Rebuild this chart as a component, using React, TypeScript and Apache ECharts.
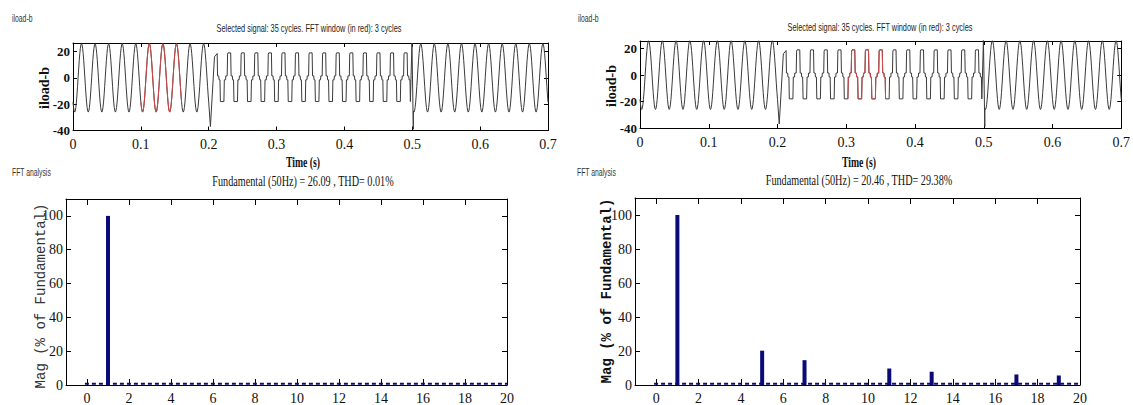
import React, { useEffect, useRef } from 'react';
import * as echarts from 'echarts';

// ---- tick labels ----
const timeTicks = [0, 0.1, 0.2, 0.3, 0.4, 0.5, 0.6, 0.7];
const currentTicks = [-40, -20, 0, 20];
const harmonicTicks = [0, 2, 4, 6, 8, 10, 12, 14, 16, 18, 20];
const magTicks = [0, 20, 40, 60, 80, 100];

// ---- FFT bars (% of fundamental) ----
const harmonicsLeft = [1];
const magnitudesLeft = [100];
const harmonicsRight = [1, 5, 7, 11, 13, 17, 19];
const magnitudesRight = [100, 20.2, 14.6, 9.7, 7.8, 6.2, 5.6];
const noiseFloor = 0.7;

// ---- time signal iload-b ----
const cyclePeriod = 0.02; // 50 Hz
// one sinusoidal cycle, starting at a positive peak (24 samples)
const sineCycle = [26, 25.1, 22.5, 18.4, 13, 6.7, 0, -6.7, -13, -18.4, -22.5, -25.1,
  -26, -25.1, -22.5, -18.4, -13, -6.7, 0, 6.7, 13, 18.4, 22.5, 25.1];
const sinePeakTime = 0.0125;
// one six-step cycle: [fraction of period, value]
const stepCycle: [number, number][] = [
  [0, 1.5], [0.03, 18], [0.06, 19], [0.26, 19], [0.29, 1.5], [0.38, 1.5], [0.4, -1.5],
  [0.47, -1.5], [0.5, -18], [0.53, -18], [0.76, -18], [0.79, -1.5], [0.88, -1.5], [0.9, 1.5],
];
const stepRiseTime = 0.2072;
const sineSpans: [number, number][] = [[0, 0.2], [0.5016, 0.7]];
const stepSpan: [number, number] = [0.2126, 0.499];
const transientStart: [number, number][] = [[0.2025, -37], [0.2085, 16], [0.2125, 18.5]];
const transientEnd: [number, number][] = [[0.4995, 26.5], [0.5015, -39]];
const windowLeft: [number, number] = [0.1, 0.16];
const windowRight: [number, number] = [0.3, 0.36];

const fftTitleLeft = 'Fundamental (50Hz) = 26.09 , THD= 0.01%';
const fftTitleRight = 'Fundamental (50Hz) = 20.46 , THD= 29.38%';
const signalTitle = 'Selected signal: 35 cycles. FFT window (in red): 3 cycles';

function sineSamples(t0: number, t1: number): [number, number][] {
  const n = sineCycle.length;
  const step = cyclePeriod / n;
  const out: [number, number][] = [];
  let k = Math.ceil((t0 - sinePeakTime) / step - 1e-9);
  for (;; k++) {
    const t = sinePeakTime + k * step;
    if (t > t1 + 1e-9) break;
    out.push([+t.toFixed(6), sineCycle[((k % n) + n) % n]]);
  }
  return out;
}

function stepSamples(t0: number, t1: number): [number, number][] {
  const out: [number, number][] = [];
  const c0 = Math.floor((t0 - stepRiseTime) / cyclePeriod);
  const c1 = Math.ceil((t1 - stepRiseTime) / cyclePeriod);
  for (let c = c0; c <= c1; c++) {
    for (const [f, v] of stepCycle) {
      const t = stepRiseTime + (c + f) * cyclePeriod;
      if (t >= t0 && t <= t1) out.push([+t.toFixed(6), v]);
    }
  }
  return out;
}

const signal: [number, number][] = [
  ...sineSamples(sineSpans[0][0], sineSpans[0][1]),
  ...transientStart,
  ...stepSamples(stepSpan[0], stepSpan[1]),
  ...transientEnd,
  ...sineSamples(sineSpans[1][0], sineSpans[1][1]),
];

const windowed = (w: [number, number]) => signal.filter(([t]) => t >= w[0] - 1e-9 && t <= w[1] + 1e-9);

const SERIF = 'Liberation Serif';
const SANS = 'Liberation Sans';

function axisPair(gridIndex: number, min: number, max: number, ticks: number[], fmt: (v: number) => string,
  labelOpts: any, tickLen: number, horizontal: boolean) {
  const main: any = {
    type: 'value', gridIndex, min, max,
    position: horizontal ? 'bottom' : 'left',
    axisLine: { show: true, onZero: false, lineStyle: { color: '#000', width: 1 } },
    axisTick: { show: true, inside: true, length: tickLen, customValues: ticks, lineStyle: { color: '#000' } },
    axisLabel: { show: true, customValues: ticks, formatter: fmt, color: '#111', fontFamily: SERIF, ...labelOpts },
    splitLine: { show: false },
  };
  const mirror: any = {
    type: 'value', gridIndex, min, max,
    position: horizontal ? 'top' : 'right',
    axisLine: { show: true, onZero: false, lineStyle: { color: '#000', width: 1 } },
    axisTick: { show: true, inside: true, length: tickLen, customValues: ticks, lineStyle: { color: '#000' } },
    axisLabel: { show: false },
    splitLine: { show: false },
  };
  return [main, mirror];
}

const timeFmt = (v: number) => (v === 0 ? '0' : v.toFixed(1));
const intFmt = (v: number) => String(Math.round(v));

function text(t: string, x: number, y: number, font: string, opts: any = {}) {
  return {
    type: 'text', x, y,
    scaleX: opts.scaleX ?? 1,
    rotation: opts.rotation ?? 0,
    silent: true,
    style: {
      text: t, font, fill: opts.fill ?? '#111',
      align: opts.align ?? 'center', verticalAlign: 'middle',
      textAlign: opts.align ?? 'center', textVerticalAlign: 'middle',
    },
  };
}

export default function App() {
  const ref = useRef<HTMLDivElement>(null);
  useEffect(() => {
    if (!ref.current) return;
    const chart = echarts.init(ref.current, null, { renderer: 'svg' });

    const grids = [
      { left: 73, top: 43, width: 475, height: 87.5 },
      { left: 66, top: 199, width: 441, height: 188 },
      { left: 640, top: 41, width: 482, height: 87 },
      { left: 635, top: 198, width: 445, height: 189 },
    ];

    const yTop = { fontSize: 13, fontWeight: 'bold', margin: 3 };
    const xAxes: any[] = [
      ...axisPair(0, 0, 0.7, timeTicks, timeFmt, { fontSize: 14, margin: 7 }, 4, true),
      ...axisPair(1, -1, 20, harmonicTicks, intFmt, { fontSize: 14, margin: 6 }, 6, true),
      ...axisPair(2, 0, 0.7, timeTicks, timeFmt, { fontSize: 14, margin: 7 }, 4, true),
      ...axisPair(3, -1, 20, harmonicTicks, intFmt, { fontSize: 14, margin: 6 }, 6, true),
    ];
    const yAxes: any[] = [
      ...axisPair(0, -40, 26.5, currentTicks, intFmt, yTop, 4, false),
      ...axisPair(1, 0, 110, magTicks, intFmt, { fontSize: 14, margin: 3 }, 5, false),
      ...axisPair(2, -40, 25.7, currentTicks, intFmt, yTop, 4, false),
      ...axisPair(3, 0, 110, magTicks, intFmt, { fontSize: 14, margin: 3 }, 5, false),
    ];

    const traceStyle = { color: '#3a3a3a', width: 1 };
    const redStyle = { color: '#d04848', width: 1 };
    const barColor = '#0a0a78';

    const series: any[] = [];
    const addPanel = (panel: number, win: [number, number], hx: number[], hy: number[]) => {
      const top = panel * 4;      // main axes of the time plot
      const bottom = panel * 4 + 2; // main axes of the FFT plot
      series.push({
        type: 'line', xAxisIndex: top, yAxisIndex: top, data: signal,
        showSymbol: false, symbol: 'none', lineStyle: traceStyle, clip: true,
      });
      series.push({
        type: 'line', xAxisIndex: top, yAxisIndex: top, data: windowed(win),
        showSymbol: false, symbol: 'none', lineStyle: redStyle, clip: true, z: 3,
      });
      series.push({
        type: 'line', xAxisIndex: bottom, yAxisIndex: bottom,
        data: [[-0.1, noiseFloor], [20, noiseFloor]],
        showSymbol: false, symbol: 'none',
        lineStyle: { color: barColor, width: 2, type: [4, 3] },
      });
      series.push({
        type: 'bar', xAxisIndex: bottom, yAxisIndex: bottom,
        data: hx.map((h, i) => [h, hy[i]]),
        barWidth: 4, itemStyle: { color: barColor }, z: 3,
      });
    };
    addPanel(0, windowLeft, harmonicsLeft, magnitudesLeft);
    addPanel(1, windowRight, harmonicsRight, magnitudesRight);

    const small = `11px ${SANS}`;
    const graphic: any[] = [
      text('iload-b', 12, 18, small, { align: 'left', scaleX: 0.62, fill: '#333' }),
      text(signalTitle, 309, 28, small, { scaleX: 0.67, fill: '#222' }),
      text('iload-b', 44, 88, `bold 14px ${SERIF}`, { rotation: Math.PI / 2 }),
      text('Time (s)', 303, 162, `bold 15px ${SERIF}`, { scaleX: 0.65 }),
      text('FFT analysis', 12, 172, `10px ${SANS}`, { align: 'left', scaleX: 0.68, fill: '#333' }),
      text(fftTitleLeft, 303, 181, `15px ${SERIF}`, { scaleX: 0.68 }),
      text('Mag (% of Fundamental)', 41, 296, `14px Liberation Mono`, { rotation: Math.PI / 2, fill: '#333' }),

      text('iload-b', 578, 18, small, { align: 'left', scaleX: 0.62, fill: '#333' }),
      text(signalTitle, 880, 27, small, { scaleX: 0.67, fill: '#222' }),
      text('iload-b', 611, 86, `bold 14px ${SERIF}`, { rotation: Math.PI / 2 }),
      text('Time (s)', 859, 162, `bold 15px ${SERIF}`, { scaleX: 0.65 }),
      text('FFT analysis', 577, 172, `10px ${SANS}`, { align: 'left', scaleX: 0.68, fill: '#333' }),
      text(fftTitleRight, 859, 180, `15px ${SERIF}`, { scaleX: 0.68 }),
      text('Mag (% of Fundamental)', 607, 291, `bold 14px Liberation Mono`, { rotation: Math.PI / 2 }),
    ];

    chart.setOption({
      animation: false,
      backgroundColor: '#fff',
      grid: grids,
      xAxis: xAxes,
      yAxis: yAxes,
      series,
      graphic,
    });
    return () => chart.dispose();
  }, []);
  return <div ref={ref} style={{ position: 'fixed', left: 0, top: 0, width: 1133, height: 405, background: '#fff' }} />;
}
